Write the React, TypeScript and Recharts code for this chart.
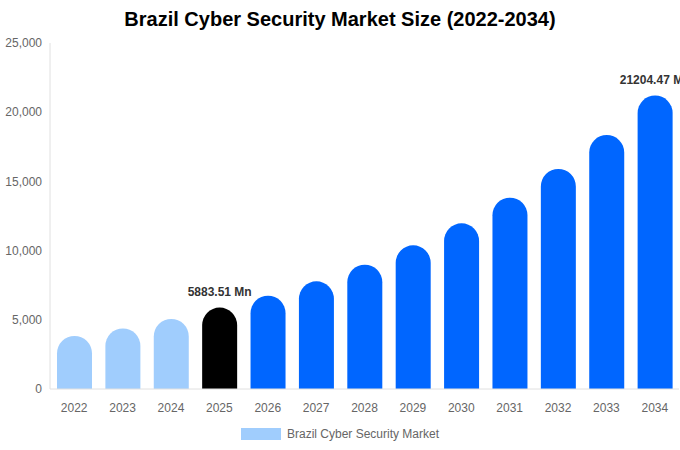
import React from "react";
import { BarChart, Bar, XAxis, YAxis, Cell, LabelList } from "recharts";

const years = ["2022", "2023", "2024", "2025", "2026", "2027", "2028", "2029", "2030", "2031", "2032", "2033", "2034"];
const marketValues = [3830, 4380, 5060, 5883.51, 6740, 7780, 8980, 10380, 11970, 13820, 15900, 18350, 21204.47];
const barColors = ["#a0cdfd", "#a0cdfd", "#a0cdfd", "#000000", "#0066ff", "#0066ff", "#0066ff", "#0066ff", "#0066ff", "#0066ff", "#0066ff", "#0066ff", "#0066ff"];
const labelledYears = ["2025", "2034"];
const yTicks = [0, 5000, 10000, 15000, 20000, 25000];

const data = years.map((y, i) => ({ year: y, value: marketValues[i], color: barColors[i] }));

const fmt = (v: number) => v.toLocaleString("en-US");

const renderLabel = (props: any) => {
  const { x, y, width, index } = props;
  const d = data[index];
  if (!labelledYears.includes(d.year)) return null;
  return (
    <text
      x={x + width / 2}
      y={y - 12}
      textAnchor="middle"
      fontSize={12}
      fontWeight="bold"
      fill="#333"
      fontFamily="Liberation Sans, Arial, sans-serif"
    >
      {`${d.value.toFixed(2)} Mn`}
    </text>
  );
};

export default function App() {
  return (
    <div style={{ position: "absolute", left: 0, top: 0, width: 680, height: 450, background: "#fff", fontFamily: "Liberation Sans, Arial, sans-serif", overflow: "hidden" }}>
      <div style={{ position: "absolute", left: 0, top: 8, width: 680, textAlign: "center", fontSize: 20, fontWeight: "bold", color: "#000" }}>
        Brazil Cyber Security Market Size (2022-2034)
      </div>
      <BarChart width={680} height={450} data={data} margin={{ top: 43, right: 1, bottom: 31, left: 0 }}>
        <YAxis
          ticks={yTicks}
          domain={[0, 25000]}
          tickFormatter={fmt}
          width={50}
          axisLine={{ stroke: "#e0e0e0" }}
          tickLine={false}
          tick={{ fontSize: 12, fill: "#666" }}
          interval={0}
        />
        <XAxis
          dataKey="year"
          axisLine={{ stroke: "#e0e0e0" }}
          tickLine={false}
          tick={{ fontSize: 12, fill: "#666" }}
          tickMargin={8}
          height={30}
          interval={0}
        />
        <Bar dataKey="value" barSize={35} radius={[17.5, 17.5, 0, 0]} isAnimationActive={false}>
          {data.map((d, i) => (
            <Cell key={i} fill={d.color} />
          ))}
          <LabelList dataKey="value" content={renderLabel} />
        </Bar>
      </BarChart>
      <div style={{ position: "absolute", left: 241, top: 427, display: "flex", alignItems: "center" }}>
        <div style={{ width: 40, height: 12, background: "#a0cdfd" }} />
        <span style={{ marginLeft: 6, fontSize: 12, color: "#666" }}>Brazil Cyber Security Market</span>
      </div>
    </div>
  );
}
